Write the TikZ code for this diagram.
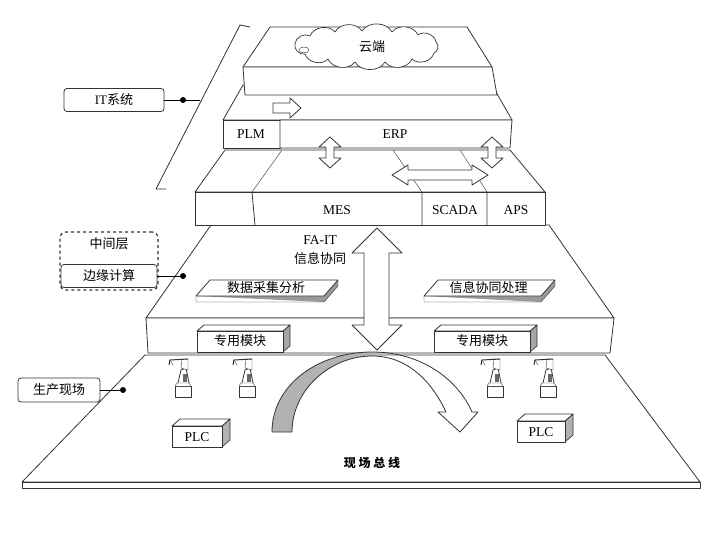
\documentclass[tikz,border=0pt]{standalone}
\usepackage{fontspec}
\setmainfont{Liberation Serif}
\newfontfamily\cjk{Noto Sans CJK SC}
\usetikzlibrary{arrows.meta,calc}
\begin{document}
\begin{tikzpicture}[x=1pt,y=-1pt,line join=round,
  face/.style={draw=black!80,fill=white,line width=0.8pt},
  lbl/.style={font=\cjk\fontsize{13}{15}\selectfont},
  lat/.style={font=\fontsize{13.5}{15}\selectfont},
  side/.style={draw=black!80,fill=black!35,line width=0.6pt},
  hollow/.style={draw=black!80,fill=white,line width=0.8pt},
  dotc/.style={circle,fill=black,inner sep=0pt,minimum size=6pt}]
\useasboundingbox (0,0) rectangle (719,540);
% ---------- bottom platform
\draw[face] (145,355) -- (605,355) -- (700,482) -- (22,482) -- cycle;
\draw[face] (22,482) -- (700,482) -- (700,488) -- (22,488) -- cycle;
% ---------- middle layer
\draw[face] (211,225) -- (549,225) -- (614,318) -- (146,318) -- cycle;
\draw[face] (146,318) -- (614,318) -- (610,353) -- (148,353) -- cycle;
% plates
\foreach \xa/\xb/\t [count=\i] in {196/324/数据采集分析,424/541/信息协同处理}{
  \fill[black!40] (\xa,296) -- (\xb+14,281) -- (\xb+14,286) -- (\xb,302) -- cycle;
  \draw[face] (\xa,296) -- (\xa+14,280) -- (\xb+14,280) -- (\xb,296) -- cycle;
  \draw[black!80] (\xa,296) -- (\xa,302) -- (\xb,302) -- (\xb+14,286) -- (\xb+14,280);
  \node[lbl] (plate\i) at ({(\xa+\xb)/2+6},288) {\t};
}
% modules
\foreach \xa/\xb [count=\i] in {197/283,434/530}{
  \draw[side] (\xb,331) -- (\xb+7,325) -- (\xb+7,346) -- (\xb,352) -- cycle;
  \draw[face] (\xa,331) -- (\xa+7,325) -- (\xb+7,325) -- (\xb,331) -- cycle;
  \draw[face] (\xa,331) rectangle (\xb,352);
  \node[lbl] (mod\i) at ({(\xa+\xb)/2},341) {专用模块};
}
\node[lat,align=center] (fait) at (320,240) {FA-IT};
\node[lbl] (xtx) at (320,259) {信息协同};
% vertical double arrow
\draw[hollow] (377,228) -- (402,253) -- (389,253) -- (389,325) -- (402,325) -- (377,350)
  -- (352,325) -- (364,325) -- (364,253) -- (352,253) -- cycle;
% ---------- MES layer
\draw[face] (225,150) -- (510,150) -- (545,192) -- (195,192) -- cycle;
\draw[face] (195,192) rectangle (545,225);
\draw[black!80,line width=0.8pt] (252,192) -- (255,225) (422,192) -- (422,225) (487,192) -- (487,225);
\draw[black!80] (252,192) -- (282,150) (422,192) -- (393,150) (487,192) -- (460,150);
\node[lat] (mes) at (337,210) {MES};
\node[lat] (scada) at (455,210) {SCADA};
\node[lat] (aps) at (516,210) {APS};
% horizontal double arrow
\draw[hollow] (392,175) -- (408,165) -- (408,170) -- (472,170) -- (472,165) -- (488,175)
 -- (472,185) -- (472,180) -- (408,180) -- (408,185) -- cycle;
% ---------- ERP layer
\draw[face] (243,85) -- (492,85) -- (512,120) -- (223,120) -- cycle;
\draw[face] (223,120) rectangle (280,148);
\draw[face] (280,120) -- (512,120) -- (510,148) -- (280,148) -- cycle;
\node[lat] (plm) at (251,134) {PLM};
\node[lat] (erp) at (395,134) {ERP};
% arrow PLM->ERP
\draw[hollow] (273,103) -- (290,103) -- (290,98) -- (301,108) -- (290,118) -- (290,113) -- (273,113) -- cycle;
% vertical arrows ERP<->MES
\foreach \xx in {330,492}{
  \draw[hollow] (\xx,137) -- (\xx+11,147) -- (\xx+4,147) -- (\xx+4,158) -- (\xx+11,158) -- (\xx,168)
   -- (\xx-11,158) -- (\xx-4,158) -- (\xx-4,147) -- (\xx-11,147) -- cycle;
}
% ---------- cloud layer
\draw[face] (270,27) -- (467,27) -- (492,67) -- (243,67) -- cycle;
\draw[face] (243,67) -- (492,67) -- (497,95) -- (245,95) -- cycle;
\draw[black!80,line width=0.7pt,fill=white]
  (295,44) to[bend left=60] (310,36) to[bend left=60] (335,32) to[bend left=60] (362,31)
  to[bend left=60] (392,32) to[bend left=60] (418,35) to[bend left=60] (436,42)
  to[bend left=60] (434,53) to[bend left=60] (412,59) to[bend left=60] (385,62)
  to[bend left=60] (355,62) to[bend left=60] (328,59) to[bend left=60] (305,54)
  to[bend left=60] cycle;
\draw[black!80] (304,50) circle[x radius=5,y radius=3];
\node[lbl] (yd) at (372,47) {云端};
% ---------- bottom contents
\tikzset{robot/.pic={
  \draw[black!80,fill=white] (-8,-11) rectangle (8,0);
  \draw[black!80,fill=white] (-8,-11) -- (-6,-14) -- (6,-14) -- (8,-11);
  \draw[black!80,line width=0.8pt] (-5,-14) -- (-2,-27) -- (3,-29) -- (6,-14);
  \draw[black!80,fill=white] (-2,-29) -- (-1,-38) -- (5,-38) -- (5,-27) -- cycle;
  \draw[black!80,line width=1pt] (5,-38) -- (-13,-37) -- (-14,-32);
  \draw[black!80] (-13,-37) -- (-10,-32);
  \fill[black!60] (0,-23) rectangle (4,-15);
}}
\foreach \rx in {183,247,495,548} \pic at (\rx,397) {robot};
\foreach \xa/\ya/\xb [count=\i] in {172/421/222,517/416/565}{
  \draw[side,fill=black!30] (\xb,\ya+5) -- (\xb+8,\ya-2) -- (\xb+8,\ya+19) -- (\xb,\ya+26) -- cycle;
  \draw[face] (\xa,\ya+5) -- (\xa+8,\ya-2) -- (\xb+8,\ya-2) -- (\xb,\ya+5) -- cycle;
  \draw[face] (\xa,\ya+5) rectangle (\xb,\ya+26);
  \node[lat] (plc\i) at ({(\xa+\xb)/2},\ya+16) {PLC};
}
% curved arrow
\fill[black!30] (272,432) .. controls (272,385) and (318,352) .. (372,352) -- (372,356)
  .. controls (330,356) and (292,390) .. (292,432) -- cycle;
\draw[black!80,line width=0.8pt] (272,432) .. controls (272,385) and (318,352) .. (372,352)
  .. controls (422,352) and (458,380) .. (472,412) -- (478,412) -- (460,432) -- (438,412) -- (446,412)
  .. controls (432,382) and (408,356) .. (372,356)
  .. controls (330,356) and (292,390) .. (292,432) -- cycle;
\node[font=\cjk\bfseries\fontsize{12}{14}\selectfont] (bus) at (372,463) {现\ 场\ 总\ 线};
% ---------- left labels
\coordinate (bkA) at (156,189);
\coordinate (bkB) at (240,25);
\draw[black!80,line width=0.8pt] ($(bkA)+(10,0)$) -- (bkA) -- (bkB) -- ($(bkB)+(10,2)$);
\node[draw=black!80,rounded corners=3pt,line width=0.8pt,lbl,minimum width=100pt,minimum height=23pt] (it) at (114,100) {\fontspec{Liberation Serif}IT\cjk 系统};
\node[dotc] (d1) at (183,100) {};
\coordinate (bkM) at (200,100);
\draw[line width=0.8pt] (it) -- (d1) -- (bkM);
\node[draw=black!80,dashed,rounded corners=6pt,line width=1.2pt,minimum width=98pt,minimum height=58pt] (mid) at (109,261) {};
\node[lbl] (zjc) at (109,244) {中间层};
\node[draw=black!80,rounded corners=3pt,line width=0.8pt,lbl,minimum width=96pt,minimum height=23pt] (byjs) at (109,276) {边缘计算};
\node[dotc] (d2) at (183,276) {};
\draw[line width=0.8pt] (byjs) -- (d2);
\node[draw=black!80,rounded corners=3pt,line width=0.8pt,lbl,minimum width=82pt,minimum height=24pt] (sc) at (59,390) {生产现场};
\node[dotc] (d3) at (123,390) {};
\draw[line width=0.8pt] (sc) -- (d3);
\end{tikzpicture}
\end{document}
